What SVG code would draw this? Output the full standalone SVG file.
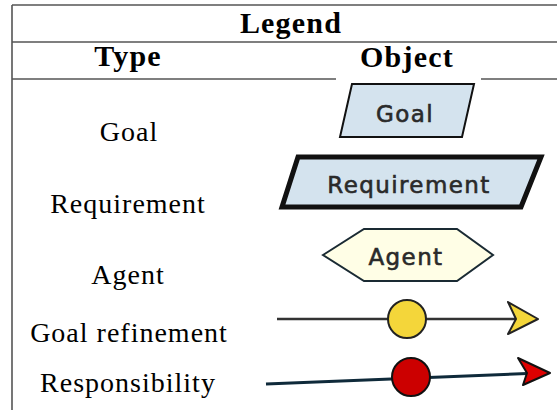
<svg xmlns="http://www.w3.org/2000/svg" width="557" height="410" viewBox="0 0 557 410">
<style>
.grid{stroke:#555;stroke-width:1.6;fill:none}
.hdr{font-family:"Liberation Serif","Times New Roman",serif;font-weight:bold;font-size:30px;fill:#000;text-anchor:middle;letter-spacing:1.2px}
.lbl{font-family:"Liberation Serif","Times New Roman",serif;font-size:28px;fill:#000;text-anchor:middle;letter-spacing:1px}
.obj{font-family:"DejaVu Sans","Verdana",sans-serif;font-size:23px;fill:#2a2a2a;stroke:#2a2a2a;stroke-width:0.6;text-anchor:middle;letter-spacing:1.4px}
.shape{fill:#d4e3ee;stroke:#111}
</style>
<rect width="557" height="410" fill="#fff"/>
<g id="table">
<path class="grid" d="M12 5 H557 M12 42 H557 M12 79 H336 M481 79 H557 M12 5 V410"/>
<text class="hdr" x="291" y="33">Legend</text>
<text class="hdr" x="128" y="66">Type</text>
<text class="hdr" x="407" y="67">Object</text>
</g>
<g id="labels">
<text class="lbl" x="129" y="141">Goal</text>
<text class="lbl" x="128" y="213">Requirement</text>
<text class="lbl" x="128" y="284">Agent</text>
<text class="lbl" x="129" y="342">Goal refinement</text>
<text class="lbl" x="128" y="392">Responsibility</text>
</g>
<g id="goal">
<polygon class="shape" points="352,84 474,84 462,137 340,137" stroke-width="2"/>
<text class="obj" x="405" y="122">Goal</text>
</g>
<g id="requirement">
<polygon class="shape" points="298,157 541,157 521,207 282,207" stroke-width="5"/>
<text class="obj" x="409" y="193">Requirement</text>
</g>
<g id="agent">
<polygon points="323,255 364,229 457,229 493,255 457,281 364,281" fill="#fffee6" stroke="#1a2a33" stroke-width="2"/>
<text class="obj" x="406" y="265">Agent</text>
</g>
<g id="connectors">
<g id="goal-refinement">
<line x1="277" y1="319" x2="530" y2="319" stroke="#333" stroke-width="2.5"/>
<circle cx="407" cy="319" r="19" fill="#f4d63a" stroke="#222" stroke-width="2"/>
<polygon points="508,302 538,319 508,334 516,319" fill="#f4d63a" stroke="#222" stroke-width="2" stroke-linejoin="round"/>
</g>
<g id="responsibility">
<line x1="266" y1="384" x2="540" y2="373" stroke="#0f2a3a" stroke-width="3"/>
<circle cx="411" cy="377" r="19" fill="#cc0000" stroke="#111" stroke-width="2"/>
<polygon points="518,358 550,373 523,385 527,373" fill="#dd0000" stroke="#111" stroke-width="2" stroke-linejoin="round"/>
</g>
</g>
</svg>
